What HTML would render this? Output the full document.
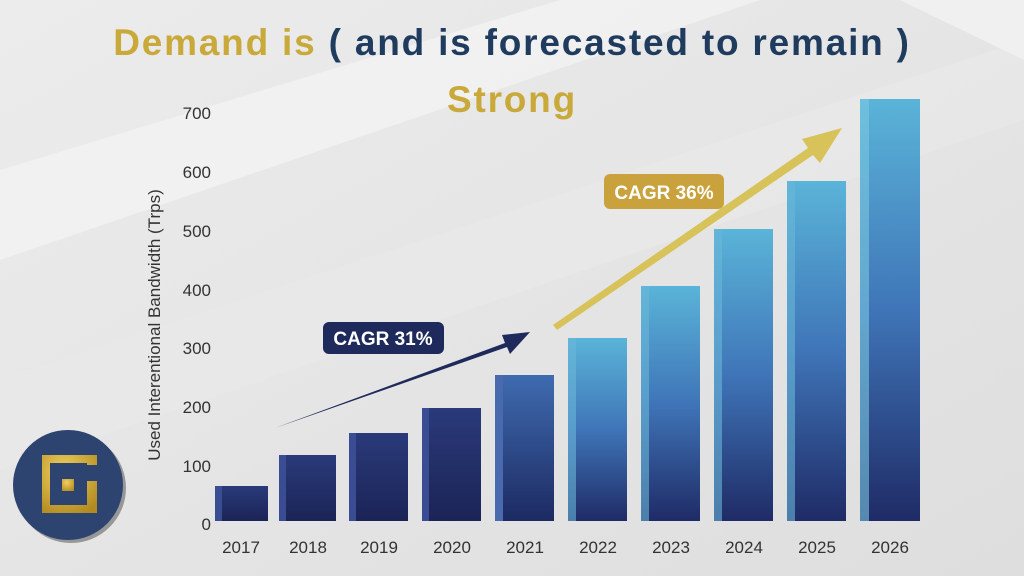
<!DOCTYPE html>
<html><head><style>
body{margin:0;width:1024px;height:576px;overflow:hidden;background:#e3e3e3;font-family:"Liberation Sans",sans-serif;position:relative}
.t{position:absolute;left:0;width:1024px;text-align:center;font-weight:bold;font-size:37px;letter-spacing:1.8px}
</style></head><body>
<svg width="1024" height="576" style="position:absolute;left:0;top:0">
<defs>
<linearGradient id="bg" x1="0" y1="0" x2="1" y2="1"><stop offset="0" stop-color="#ececec"/><stop offset="1" stop-color="#dedede"/></linearGradient>
<linearGradient id="dk" x1="0" y1="0" x2="0" y2="1"><stop offset="0" stop-color="#2a3a7a"/><stop offset="1" stop-color="#1b2456"/></linearGradient>
<linearGradient id="mid" x1="0" y1="0" x2="0" y2="1"><stop offset="0" stop-color="#3f6bb0"/><stop offset="1" stop-color="#1d2a62"/></linearGradient>
<linearGradient id="lt" x1="0" y1="0" x2="0" y2="1"><stop offset="0" stop-color="#5ab4d8"/><stop offset="0.5" stop-color="#3f75b8"/><stop offset="1" stop-color="#1f2b66"/></linearGradient>
<radialGradient id="gold" cx="0.4" cy="0.3" r="0.8"><stop offset="0" stop-color="#f0d060"/><stop offset="1" stop-color="#b28a20"/></radialGradient>
</defs>
<rect width="1024" height="576" fill="url(#bg)"/>
<polygon points="0,170 560,0 760,0 0,260" fill="#f3f3f3" opacity="0.8"/>
<polygon points="0,380 1024,40 1024,120 0,470" fill="#e9e9e9" opacity="0.6"/>
<polygon points="900,0 1024,0 1024,60" fill="#f0f0f0"/>
<g font-size="17" fill="#333" text-anchor="end">
<text x="211" y="530">0</text><text x="211" y="472">100</text><text x="211" y="413">200</text><text x="211" y="354">300</text><text x="211" y="296">400</text><text x="211" y="237">500</text><text x="211" y="178">600</text><text x="211" y="119">700</text>
</g>
<text transform="translate(160,325) rotate(-90)" text-anchor="middle" font-size="17" fill="#333">Used Interentional Bandwidth  (Trps)</text>
<g>
<rect x="215" y="486" width="53" height="35" fill="url(#dk)"/><rect x="215" y="486" width="7" height="35" fill="#3a4c92"/>
<rect x="279" y="455" width="57" height="66" fill="url(#dk)"/><rect x="279" y="455" width="7" height="66" fill="#3a4c92"/>
<rect x="349" y="433" width="59" height="88" fill="url(#dk)"/><rect x="349" y="433" width="7" height="88" fill="#3a4c92"/>
<rect x="422" y="408" width="59" height="113" fill="url(#dk)"/><rect x="422" y="408" width="7" height="113" fill="#3a4c92"/>
<rect x="495" y="375" width="59" height="146" fill="url(#mid)"/><rect x="495" y="375" width="8" height="146" fill="#4a6ab0"/>
<rect x="568" y="338" width="59" height="183" fill="url(#lt)"/><rect x="568" y="338" width="8" height="183" fill="#6ab8d8" opacity="0.6"/>
<rect x="641" y="286" width="59" height="235" fill="url(#lt)"/><rect x="641" y="286" width="8" height="235" fill="#6ab8d8" opacity="0.6"/>
<rect x="714" y="229" width="59" height="292" fill="url(#lt)"/><rect x="714" y="229" width="8" height="292" fill="#6ab8d8" opacity="0.6"/>
<rect x="787" y="181" width="59" height="340" fill="url(#lt)"/><rect x="787" y="181" width="8" height="340" fill="#6ab8d8" opacity="0.6"/>
<rect x="860" y="99" width="60" height="422" fill="url(#lt)"/><rect x="860" y="99" width="9" height="422" fill="#7cc8e0" opacity="0.6"/>
</g>
<g font-size="17" fill="#333" text-anchor="middle">
<text x="241" y="553">2017</text><text x="308" y="553">2018</text><text x="379" y="553">2019</text><text x="452" y="553">2020</text><text x="525" y="553">2021</text><text x="598" y="553">2022</text><text x="671" y="553">2023</text><text x="744" y="553">2024</text><text x="817" y="553">2025</text><text x="890" y="553">2026</text>
</g>
<polygon points="275,428 505,343 502,335 530,332 510,354 507,347" fill="#1f2a5c"/>
<polygon points="553,325 808,148 802,139 842,128 820,163 813,155 557,330" fill="#d8c25a"/>
<rect x="323" y="322" width="121" height="32" rx="6" fill="#1f2a5c"/>
<text x="383" y="345" text-anchor="middle" font-size="19" font-weight="bold" fill="#fff">CAGR 31%</text>
<rect x="604" y="174" width="120" height="35" rx="6" fill="#c9a23e"/>
<text x="664" y="199" text-anchor="middle" font-size="19" font-weight="bold" fill="#fff">CAGR 36%</text>
<circle cx="71" cy="488" r="55" fill="#222" opacity="0.4"/>
<circle cx="68" cy="485" r="55" fill="#2e4470"/>
<path d="M42,455 h55 v10 h-10 v-2 h-37 v42 h37 v-24 h10 v32 h-55 z" fill="url(#gold)"/>
<rect x="62" y="479" width="12" height="12" fill="url(#gold)"/>
</svg>
<div class="t" style="top:22px"><span style="color:#c9a93a">Demand is</span> <span style="color:#1f3c5e">( and is forecasted to remain )</span></div>
<div class="t" style="top:79px;color:#c9a93a">Strong</div>
</body></html>
